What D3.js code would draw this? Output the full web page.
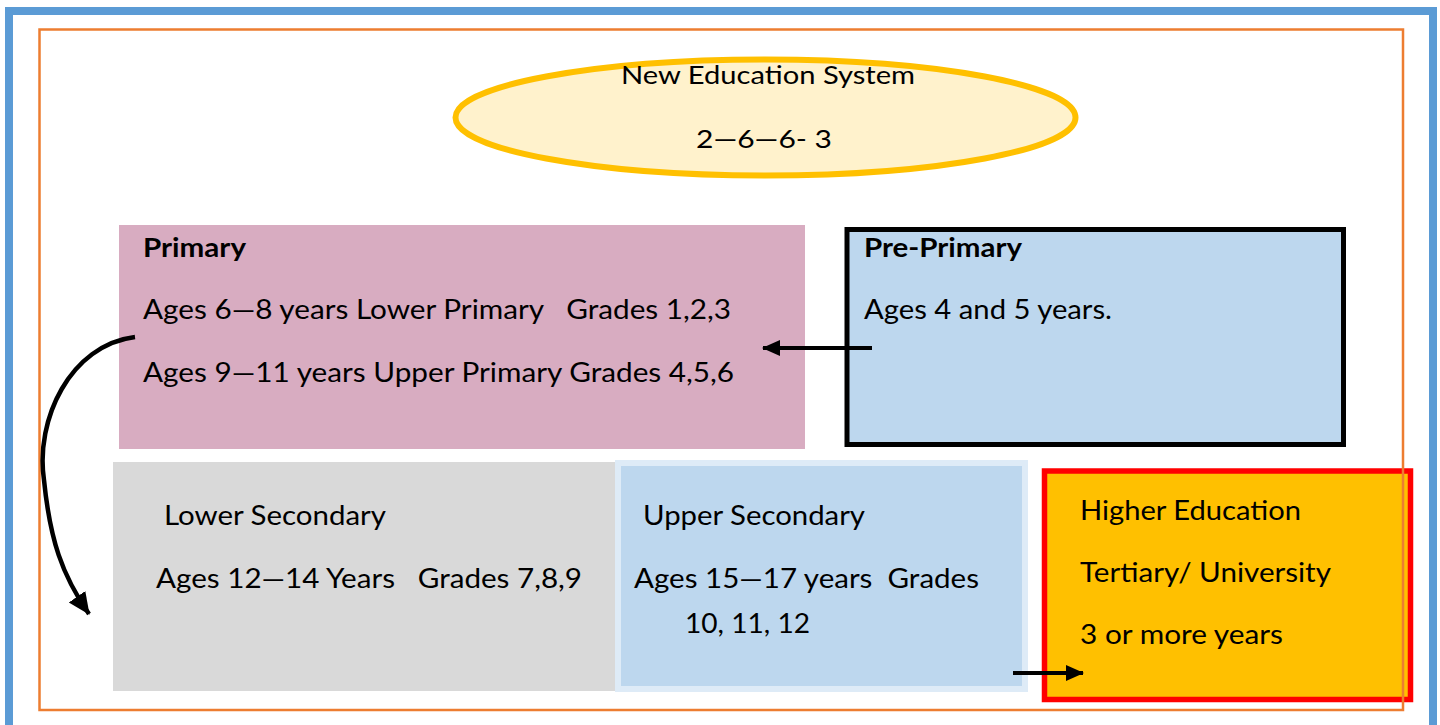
<!DOCTYPE html>
<html>
<head>
<meta charset="utf-8">
<script src="https://cdn.jsdelivr.net/npm/d3@7"></script>
<style>
  html, body { margin: 0; padding: 0; background: #fff; }
  svg { display: block; }
  text { font-family: Lato, "Open Sans", sans-serif; fill: #000; white-space: pre; }
</style>
</head>
<body>
<script>
// ---- data (text content of the diagram) ----
const titleLines = ["New Education System", "2\u20146\u20146- 3"];
const stageNames = ["Primary", "Pre-Primary", "Lower Secondary", "Upper Secondary", "Higher Education"];
const primaryLines = ["Ages 6\u20148 years Lower Primary   Grades 1,2,3", "Ages 9\u201411 years Upper Primary Grades 4,5,6"];
const prePrimaryLines = ["Ages 4 and 5 years."];
const lowerSecLines = ["Ages 12\u201414 Years   Grades 7,8,9"];
const upperSecLines = ["Ages 15\u201417 years  Grades", "10, 11, 12"];
const higherLines = ["Tertiary/ University", "3 or more years"];

// ---- layout ----
const W = 1440, H = 725;
const svg = d3.select("body").append("svg").attr("width", W).attr("height", H);

const defs = svg.append("defs");
function marker(id, len, half) {
  defs.append("marker")
    .attr("id", id)
    .attr("viewBox", `0 ${-half - 1} ${len + 1} ${2 * half + 2}`)
    .attr("refX", len - 1).attr("refY", 0)
    .attr("markerWidth", len + 1).attr("markerHeight", 2 * half + 2)
    .attr("markerUnits", "userSpaceOnUse")
    .attr("orient", "auto")
    .append("path").attr("d", `M0,${-half}L${len},0L0,${half}Z`).attr("fill", "#000");
}
marker("arrow", 18, 8);
marker("arrowBig", 22, 10);

// outer blue frame
svg.append("rect").attr("x", 9).attr("y", 11).attr("width", 1424).attr("height", 730)
  .attr("fill", "none").attr("stroke", "#5B9BD5").attr("stroke-width", 8);

// ellipse title
svg.append("ellipse").attr("cx", 765.5).attr("cy", 117.5).attr("rx", 310).attr("ry", 58)
  .attr("fill", "#FFF2CC").attr("stroke", "#FFC000").attr("stroke-width", 6);

function txt(s, x, y, w, size, bold) {
  const t = svg.append("text").attr("x", x).attr("y", y)
    .attr("font-size", size).attr("font-weight", bold ? 700 : 400)
    .text(s);
  if (w) t.attr("textLength", w).attr("lengthAdjust", "spacingAndGlyphs");
  return t;
}

txt(titleLines[0], 621, 84, 294, 25, false);
txt(titleLines[1], 696, 148, 136, 25, false);

// Primary box
svg.append("rect").attr("x", 119).attr("y", 225).attr("width", 686).attr("height", 224)
  .attr("fill", "#D8ACC1");
txt(stageNames[0], 143, 256.5, 103, 26, true);
txt(primaryLines[0], 143, 318.5, 588, 27, false);
txt(primaryLines[1], 143, 381.5, 591, 27, false);

// Pre-Primary box
svg.append("rect").attr("x", 847).attr("y", 229.5).attr("width", 496.5).attr("height", 215)
  .attr("fill", "#BDD7EE").attr("stroke", "#000").attr("stroke-width", 5);
txt(stageNames[1], 864, 256.5, 158, 26, true);
txt(prePrimaryLines[0], 864, 318.5, 248, 27, false);

// Lower Secondary box
svg.append("rect").attr("x", 113).attr("y", 462).attr("width", 503).attr("height", 229)
  .attr("fill", "#D9D9D9");
txt(stageNames[2], 164, 525, 222, 27, false);
txt(lowerSecLines[0], 156, 588, 426, 27, false);

// Upper Secondary box
svg.append("rect").attr("x", 618).attr("y", 463).attr("width", 407).attr("height", 226)
  .attr("fill", "#BDD7EE").attr("stroke", "#DEEBF7").attr("stroke-width", 6);
txt(stageNames[3], 643, 525, 222, 27, false);
txt(upperSecLines[0], 634, 588, 345, 27, false);
txt(upperSecLines[1], 685, 633, 125, 27, false);

// Higher Education box
svg.append("rect").attr("x", 1044.5).attr("y", 471).attr("width", 366).attr("height", 228.5)
  .attr("fill", "#FFC000").attr("stroke", "#FF0000").attr("stroke-width", 5.5);
txt(stageNames[4], 1080, 520, 221, 27, false);
txt(higherLines[0], 1080, 582, 251, 27, false);
txt(higherLines[1], 1080, 644, 203, 27, false);

// inner orange frame (drawn over the higher education box)
svg.append("rect").attr("x", 39.5).attr("y", 29.5).attr("width", 1363.5).attr("height", 680.5)
  .attr("fill", "none").attr("stroke", "#ED7D31").attr("stroke-width", 2.5);

// arrows
svg.append("line").attr("x1", 872).attr("y1", 348).attr("x2", 763).attr("y2", 348)
  .attr("stroke", "#000").attr("stroke-width", 4).attr("marker-end", "url(#arrow)");
svg.append("line").attr("x1", 1013).attr("y1", 673).attr("x2", 1083).attr("y2", 673)
  .attr("stroke", "#000").attr("stroke-width", 4).attr("marker-end", "url(#arrow)");
svg.append("path").attr("d", "M135,337 C70,345 35,420 44,480 C50,540 62,575 89,614")
  .attr("fill", "none").attr("stroke", "#000").attr("stroke-width", 4.5)
  .attr("marker-end", "url(#arrowBig)");
</script>
</body>
</html>
